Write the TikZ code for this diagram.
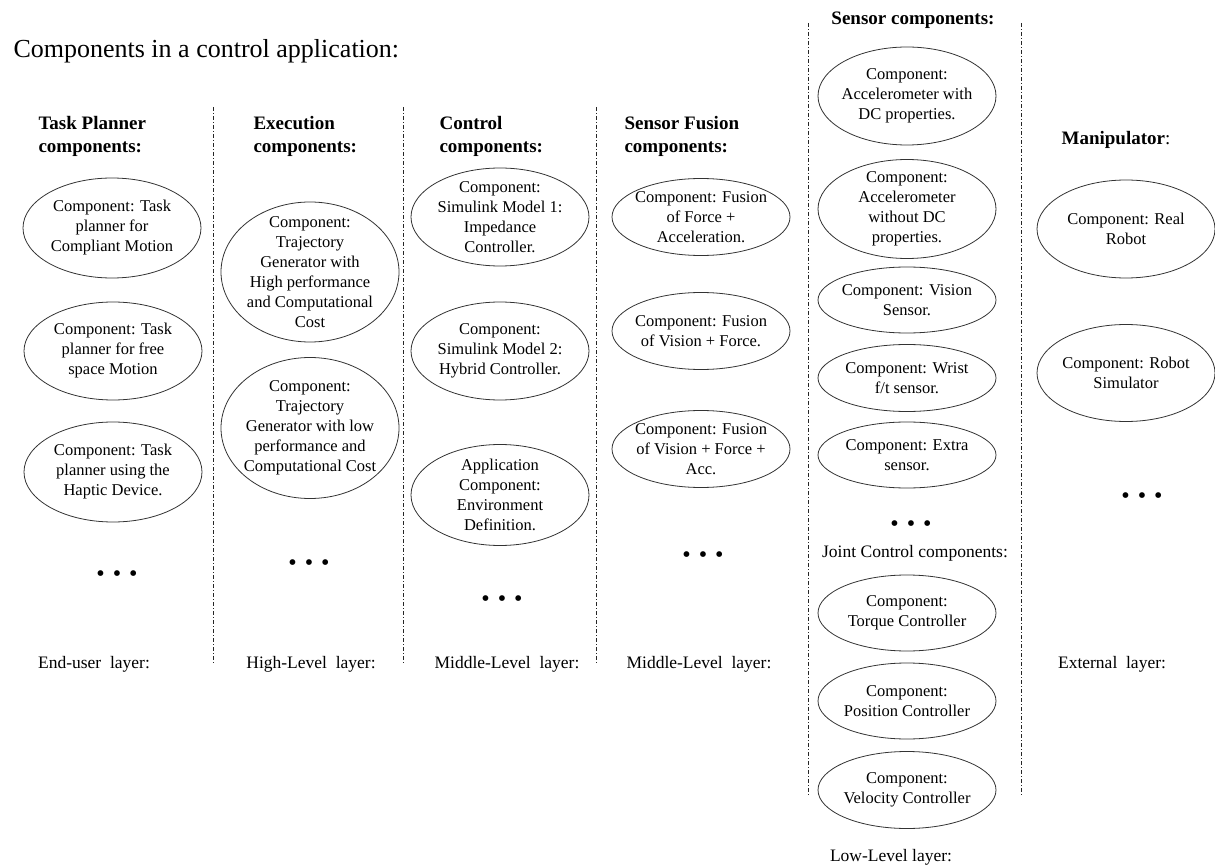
\documentclass[tikz,border=0pt]{standalone}
\usepackage{fontspec}
\setmainfont{Liberation Serif}
\usetikzlibrary{shapes}
\tikzstyle{every picture}=[x=1pt, y=-1pt, font=\fontsize{16.5}{20}\selectfont]
\tikzstyle{comp}=[align=center, inner sep=0pt]
\tikzstyle{rim}=[draw=black!80, line width=0.8pt]
\tikzstyle{head}=[anchor=west, align=left, font=\fontsize{19}{23}\selectfont\bfseries]
\tikzstyle{layer}=[anchor=base, font=\fontsize{17.5}{21}\selectfont]
\tikzstyle{moredots}=[font=\fontsize{24}{26}\selectfont]
\tikzstyle{divider}=[draw=black!85, line width=0.7pt, dash pattern=on 4pt off 2pt on 1pt off 2pt]
\newcommand{\threedots}{\textbullet\hspace{8pt}\textbullet\hspace{8pt}\textbullet}

\begin{document}
\begin{tikzpicture}
	\useasboundingbox (0,0) rectangle (1215,866);
	\node[anchor=base west, font=\fontsize{26}{30}\selectfont] (title) at (10,58) {Components in a control application:};
	\foreach \x in {213,403,596}
		\draw[divider] (\x,107) -- (\x,663);
	\foreach \x in {808,1021}
		\draw[divider] (\x,23) -- (\x,795);

	\node[head] (tpHead) at (35,136) {Task Planner\\components:};
	\node[comp] (tpA) at (112,228) {Component: Task\\planner for\\Compliant Motion};
	\node[comp] (tpB) at (113,351) {Component: Task\\planner for free\\space Motion};
	\node[comp] (tpC) at (113,472) {Component: Task\\planner using the\\Haptic Device.};
	\node[moredots] (tpDots) at (117,576) {\threedots};
	\node[layer] (tpLayer) at (94,668) {End-user\ \ layer:};

	\node[head] (exHead) at (250,136) {Execution\\components:};
	\node[comp] (exA) at (310,272) {Component:\\Trajectory\\Generator with\\High performance\\and Computational\\Cost};
	\node[comp] (exB) at (310,428) {Component:\\Trajectory\\Generator with low\\performance and\\Computational Cost};
	\node[moredots] (exDots) at (309,565) {\threedots};
	\node[layer] (exLayer) at (311,668) {High-Level\ \ layer:};

	\node[head] (ctHead) at (436,136) {Control\\components:};
	\node[comp] (ctA) at (500,217) {Component:\\Simulink Model 1:\\Impedance\\Controller.};
	\node[comp] (ctB) at (500,351) {Component:\\Simulink Model 2:\\Hybrid Controller.};
	\node[comp] (ctC) at (500,495) {Application\\Component:\\Environment\\Definition.};
	\node[moredots] (ctDots) at (502,601) {\threedots};
	\node[layer] (ctLayer) at (507,668) {Middle-Level\ \ layer:};

	\node[head] (fuHead) at (621,136) {Sensor Fusion\\components:};
	\node[comp] (fuA) at (701,217) {Component: Fusion\\of Force +\\Acceleration.};
	\node[comp] (fuB) at (701,331) {Component: Fusion\\of Vision + Force.};
	\node[comp] (fuC) at (701,449) {Component: Fusion\\of Vision + Force +\\Acc.};
	\node[moredots] (fuDots) at (703,557) {\threedots};
	\node[layer] (fuLayer) at (699,668) {Middle-Level\ \ layer:};

	\node[head, anchor=base] (snHead) at (913,25) {Sensor components:};
	\node[comp] (snA) at (907,96) {Component:\\Accelerometer with\\DC properties.};
	\node[comp] (snB) at (907,209) {Component:\\Accelerometer\\without DC\\properties.};
	\node[comp] (snC) at (907,300) {Component: Vision\\Sensor.};
	\node[comp] (snD) at (907,378) {Component: Wrist\\f/t sensor.};
	\node[comp] (snE) at (907,455) {Component: Extra\\sensor.};
	\node[moredots] (snDots) at (911,526) {\threedots};
	\node[layer] (jcHead) at (915,557) {Joint Control components:};
	\node[comp] (jcA) at (907,613) {Component:\\Torque Controller};
	\node[comp] (jcB) at (907,701) {Component:\\Position Controller};
	\node[comp] (jcC) at (907,790) {Component:\\Velocity Controller};
	\node[layer] (snLayer) at (891,861) {Low-Level layer:};

	\node[head, anchor=base] (mpHead) at (1116,145) {Manipulator\textmd{:}};
	\node[comp] (mpA) at (1126,229) {Component: Real\\Robot};
	\node[comp] (mpB) at (1126,373) {Component: Robot\\Simulator};
	\node[moredots] (mpDots) at (1142,498) {\threedots};
	\node[layer] (mpLayer) at (1112,668) {External\ \ layer:};

	\foreach \n/\ry in {tpA/50,tpB/49,tpC/50,exA/70,exB/70.5,ctA/49,ctB/49,ctC/50.5,%
		fuA/38.5,fuB/38.5,fuC/38.5,snA/49,snB/49.5,snC/33,snD/33.5,snE/33,%
		jcA/38,jcB/38,jcC/38.5,mpA/49,mpB/48.5}
		\draw[rim] (\n.center) ellipse [x radius=89pt, y radius=\ry pt];
\end{tikzpicture}
\end{document}
